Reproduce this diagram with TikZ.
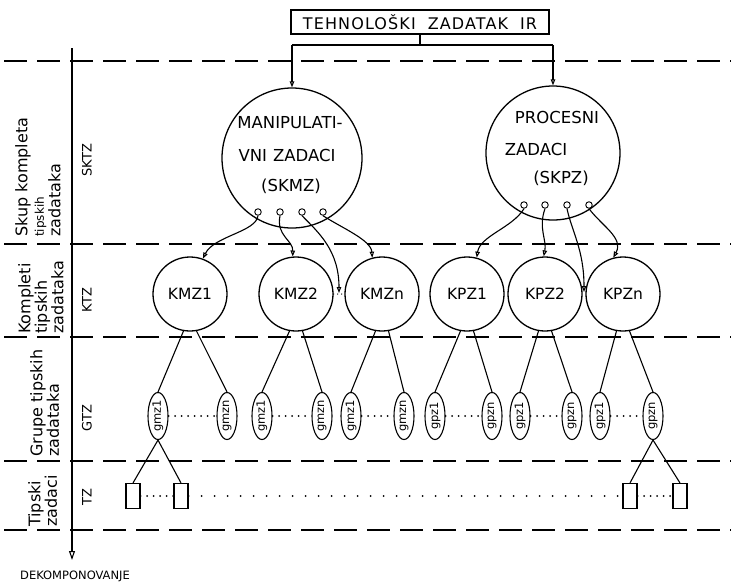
\documentclass[tikz,border=0pt]{standalone}
\usepackage{fontspec}
\setmainfont{DejaVu Sans}
\usetikzlibrary{shapes.geometric,arrows.meta}
\begin{document}
\begin{tikzpicture}[x=1pt,y=-1pt,
  every node/.style={inner sep=0pt, font=\fontsize{14}{16}\selectfont},
  bigc/.style={circle, draw, line width=1.3pt, minimum size=#1},
  midc/.style={circle, draw, line width=1.3pt, minimum size=74pt, font=\fontsize{15.5}{16}\selectfont},
  gell/.style={ellipse, draw, line width=1.1pt, minimum width=47pt, minimum height=20pt, rotate=90, font=\fontsize{11.5}{12}\selectfont},
  tbox/.style={rectangle, draw, line width=1.1pt, minimum width=14pt, minimum height=25pt},
  port/.style={circle, draw, line width=0.9pt, minimum size=6.5pt},
  sepline/.style={line width=1.2pt, dash pattern=on 23pt off 10pt},
  conn/.style={line width=1.1pt},
  arr/.style={-{Triangle[open,length=6pt,width=4.5pt]}},
  dots/.style={line width=2pt, line cap=round, dash pattern=on 0pt off 6.5pt},
  sparse/.style={line width=2pt, line cap=round, dash pattern=on 0pt off 13pt},
  lab/.style={rotate=90, anchor=north west, align=left, font=\fontsize{16}{16.5}\selectfont},
  code/.style={rotate=90, font=\fontsize{13}{13}\selectfont},
  txt/.style={font=\fontsize{16.5}{17}\selectfont},
]
\useasboundingbox (0,0) rectangle (731,582);

% separators
\foreach \yy in {61,244,337,461,530} \draw[sepline] (4,\yy) -- (731,\yy);

% axis
\coordinate (axtop) at (72,48);
\coordinate (axbot) at (72,560);
\draw[line width=1.1pt,-{Triangle[open,length=9pt,width=6pt]}] (axtop) -- (axbot);
\node[font=\fontsize{11.5}{12}\selectfont] (dek) at (75,576) {DEKOMPONOVANJE};

% left labels
\node[lab] (l1) at (15,237) {Skup kompleta\\{\fontsize{12}{16.5}\selectfont tipskih}\\zadataka};
\node[lab] (l2) at (18,334) {Kompleti\\tipskih\\zadataka};
\node[lab] (l3) at (30,457) {Grupe tipskih\\zadataka};
\node[lab] (l4) at (28,527) {Tipski\\zadaci};
\node[code] (c1) at (87,160) {SKTZ};
\node[code] (c2) at (87,300) {KTZ};
\node[code] (c3) at (87,418) {GTZ};
\node[code] (c4) at (87,497) {TZ};

% title and bracket
\node[draw, line width=1.1pt, minimum width=258pt, minimum height=24pt, font=\fontsize{16}{16}\selectfont\addfontfeature{LetterSpace=7}] (title) at (420,22) {TEHNOLOŠKI\hspace{12pt}ZADATAK\hspace{12pt}IR};
\coordinate (bj) at (420,45);
\coordinate (bl) at (292,45);
\coordinate (brr) at (553,45);

% big circles
\node[bigc=140pt] (skmz) at (292,158) {};
\node[bigc=134pt] (skpz) at (553,153) {};
\node[txt] (m1) at (290,123) {MANIPULATI-};
\node[txt] (m2) at (287,155) {VNI\hspace{6pt}ZADACI};
\node[txt] (m3) at (291,186) {(SKMZ)};
\node[txt] (p1t) at (557,117) {PROCESNI};
\node[txt] (p2t) at (536,149) {ZADACI};
\node[txt] (p3t) at (561,178) {(SKPZ)};

\draw[conn] (title.south) -- (bj);
\draw[conn] (bl) -- (brr);
\draw[conn,arr] (bl) -- (skmz.north);
\draw[conn,arr] (brr) -- (skpz.north);

% ports
\node[port] (pm1) at (258,212) {};
\node[port] (pm2) at (280,212) {};
\node[port] (pm3) at (302,212) {};
\node[port] (pm4) at (323,212) {};
\node[port] (pp1) at (524,205) {};
\node[port] (pp2) at (545,205) {};
\node[port] (pp3) at (567,205) {};
\node[port] (pp4) at (589,205) {};

% second row
\node[midc] (kmz1) at (190,294) {KMZ1};
\node[midc] (kmz2) at (296,294) {KMZ2};
\node[midc] (kmzn) at (382,294) {KMZn};
\node[midc] (kpz1) at (467,294) {KPZ1};
\node[midc] (kpz2) at (545,294) {KPZ2};
\node[midc] (kpzn) at (623,294) {KPZn};
\coordinate (gm) at (339,293);
\coordinate (gp) at (584,292);

\draw[conn,arr] (pm1.south) .. controls (256,232) and (214,236) .. (kmz1.70);
\draw[conn,arr] (pm2.south) .. controls (276,236) and (293,240) .. (kmz2.95);
\draw[conn,arr] (pm3.south) .. controls (318,232) and (339,250) .. (gm);
\draw[conn,arr] (pm4.south) .. controls (342,228) and (371,240) .. (kmzn.105);
\draw[conn,arr] (pp1.south) .. controls (512,228) and (480,236) .. (kpz1.75);
\draw[conn,arr] (pp2.south) .. controls (538,228) and (547,240) .. (kpz2.92);
\draw[conn,arr] (pp3.south) .. controls (572,232) and (584,250) .. (gp);
\draw[conn,arr] (pp4.south) .. controls (602,226) and (624,238) .. (kpzn.105);
\draw[line width=1.3pt, line cap=round, dash pattern=on 0pt off 4pt] (kmz2.east) -- (kmzn.west);

% ellipses
\node[gell] (g1a) at (158,416) {gmz1};
\node[gell] (g1b) at (227,416) {gmzn};
\node[gell] (g2a) at (262,416) {gmz1};
\node[gell] (g2b) at (322,416) {gmzn};
\node[gell] (g3a) at (351,416) {gmz1};
\node[gell] (g3b) at (404,416) {gmzn};
\node[gell] (g4a) at (435,416) {gpz1};
\node[gell] (g4b) at (492,416) {gpzn};
\node[gell] (g5a) at (520,416) {gpz1};
\node[gell] (g5b) at (572,416) {gpzn};
\node[gell] (g6a) at (600,416) {gpz1};
\node[gell] (g6b) at (653,416) {gpzn};

\foreach \c/\g in {kmz1/1,kmz2/2,kmzn/3,kpz1/4,kpz2/5,kpzn/6}{
  \draw[conn] (\c.-100) -- (g\g a.east);
  \draw[conn] (\c.-80) -- (g\g b.east);
  \draw[dots] (g\g a.south) -- (g\g b.north);
}

% TZ boxes
\node[tbox] (t1a) at (133,496) {};
\node[tbox] (t1b) at (181,496) {};
\node[tbox] (t6a) at (630,496) {};
\node[tbox] (t6b) at (680,496) {};
\draw[conn] (g1a.west) -- (t1a.north);
\draw[conn] (g1a.west) -- (t1b.north);
\draw[conn] (g6b.west) -- (t6a.north);
\draw[conn] (g6b.west) -- (t6b.north);
\draw[dots] (t1a.east) -- (t1b.west);
\draw[sparse] (t1b.east) -- (t6a.west);
\draw[dots] (t6a.east) -- (t6b.west);
\end{tikzpicture}
\end{document}
